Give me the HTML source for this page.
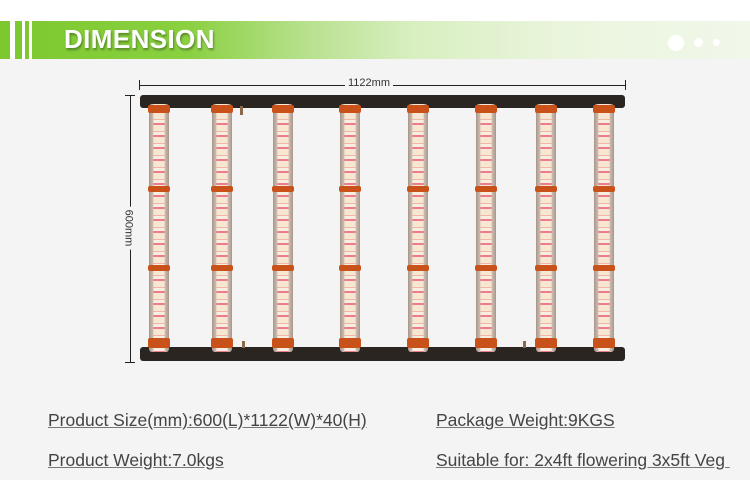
<!DOCTYPE html>
<html><head><style>
html,body{margin:0;padding:0}
body{width:750px;height:480px;background:#f4f4f4;position:relative;overflow:hidden;font-family:"Liberation Sans",sans-serif}
.top{position:absolute;left:0;top:0;width:750px;height:21px;background:#fff}
.band{position:absolute;left:0;top:21px;width:750px;height:38px;background:linear-gradient(90deg,#7cc82e 0%,#8ad041 25%,#b5e08a 40%,#d8efc0 55%,#eaf5dd 75%,#f1f7ea 100%)}
.st{position:absolute;top:21px;height:38px;background:#fff}
.title{position:absolute;left:64px;top:24px;font-size:26px;font-weight:bold;color:#fff;letter-spacing:0.4px;text-shadow:1px 2px 2px rgba(0,0,0,.35)}
.dot{position:absolute;background:#fff;border-radius:50%}
.dim{position:absolute;background:#222}
.lbl{position:absolute;font-size:11px;color:#333}
.rail{position:absolute;background:#2b2522;border-radius:3px}
.tube{position:absolute;width:20px;top:104px;height:248px;border-radius:3px;
background:linear-gradient(90deg,#a8968a 0,#cdbcb0 20%,transparent 24%,transparent 76%,#cdbcb0 80%,#a8968a 100%),
repeating-linear-gradient(180deg,#f6e6d2 0 3px,#efb8a6 3px 4px,#f8eee0 4px 7px,#ec7c8c 7px 9px,#f6e6d2 9px 12px);}
.cap{position:absolute;width:22px;height:8px;background:#c8521a;border-radius:2px}
.txt{position:absolute;font-size:17.5px;color:#444;text-decoration:underline;text-decoration-color:#777;white-space:nowrap}
</style></head><body>
<div class="top"></div>
<div class="band"></div>
<div class="st" style="left:10px;width:5px"></div>
<div class="st" style="left:22px;width:3px"></div>
<div class="st" style="left:29px;width:3px"></div>
<div class="title">DIMENSION</div>
<div class="dot" style="left:668px;top:35px;width:16px;height:16px"></div>
<div class="dot" style="left:694px;top:38px;width:9px;height:9px"></div>
<div class="dot" style="left:713px;top:39px;width:7px;height:7px"></div>

<div class="dim" style="left:139px;top:85px;width:486px;height:1px"></div>
<div class="dim" style="left:139px;top:80px;width:1px;height:10px"></div>
<div class="dim" style="left:625px;top:80px;width:1px;height:10px"></div>
<div class="lbl" style="left:345px;top:77px;background:#f4f4f4;padding:0 3px">1122mm</div>
<div class="dim" style="left:130px;top:95px;width:1px;height:267px"></div>
<div class="dim" style="left:125px;top:95px;width:10px;height:1px"></div>
<div class="dim" style="left:125px;top:362px;width:10px;height:1px"></div>
<div class="lbl" style="left:107px;top:222px;transform:rotate(90deg);background:#f4f4f4;padding:0 3px">600mm</div>

<div class="rail" style="left:140px;top:95px;width:485px;height:13px"></div>
<div class="rail" style="left:140px;top:347px;width:485px;height:14px"></div>

<div class="tube" style="left:149px"></div><div class="tube" style="left:212px"></div>
<div class="tube" style="left:273px"></div><div class="tube" style="left:340px"></div>
<div class="tube" style="left:408px"></div><div class="tube" style="left:476px"></div>
<div class="tube" style="left:536px"></div><div class="tube" style="left:594px"></div>

<div class="cap" style="left:148px;top:105px"></div><div class="cap" style="left:211px;top:105px"></div><div class="cap" style="left:272px;top:105px"></div><div class="cap" style="left:339px;top:105px"></div><div class="cap" style="left:407px;top:105px"></div><div class="cap" style="left:475px;top:105px"></div><div class="cap" style="left:535px;top:105px"></div><div class="cap" style="left:593px;top:105px"></div>
<div class="cap" style="left:148px;top:186px;height:6px"></div><div class="cap" style="left:211px;top:186px;height:6px"></div><div class="cap" style="left:272px;top:186px;height:6px"></div><div class="cap" style="left:339px;top:186px;height:6px"></div><div class="cap" style="left:407px;top:186px;height:6px"></div><div class="cap" style="left:475px;top:186px;height:6px"></div><div class="cap" style="left:535px;top:186px;height:6px"></div><div class="cap" style="left:593px;top:186px;height:6px"></div>
<div class="cap" style="left:148px;top:265px;height:6px"></div><div class="cap" style="left:211px;top:265px;height:6px"></div><div class="cap" style="left:272px;top:265px;height:6px"></div><div class="cap" style="left:339px;top:265px;height:6px"></div><div class="cap" style="left:407px;top:265px;height:6px"></div><div class="cap" style="left:475px;top:265px;height:6px"></div><div class="cap" style="left:535px;top:265px;height:6px"></div><div class="cap" style="left:593px;top:265px;height:6px"></div>
<div class="cap" style="left:148px;top:338px;height:10px"></div><div class="cap" style="left:211px;top:338px;height:10px"></div><div class="cap" style="left:272px;top:338px;height:10px"></div><div class="cap" style="left:339px;top:338px;height:10px"></div><div class="cap" style="left:407px;top:338px;height:10px"></div><div class="cap" style="left:475px;top:338px;height:10px"></div><div class="cap" style="left:535px;top:338px;height:10px"></div><div class="cap" style="left:593px;top:338px;height:10px"></div>
<div style="position:absolute;left:240px;top:106px;width:3px;height:9px;background:#8a6a4a"></div>
<div style="position:absolute;left:242px;top:341px;width:3px;height:7px;background:#8a6a4a"></div>
<div style="position:absolute;left:523px;top:341px;width:3px;height:7px;background:#8a6a4a"></div>

<div class="txt" style="left:48px;top:410px">Product Size(mm):600(L)*1122(W)*40(H)</div>
<div class="txt" style="left:436px;top:410px">Package Weight:9KGS</div>
<div class="txt" style="left:48px;top:450px">Product Weight:7.0kgs</div>
<div class="txt" style="left:436px;top:450px">Suitable for: 2x4ft flowering 3x5ft Veg&nbsp;</div>
</body></html>
